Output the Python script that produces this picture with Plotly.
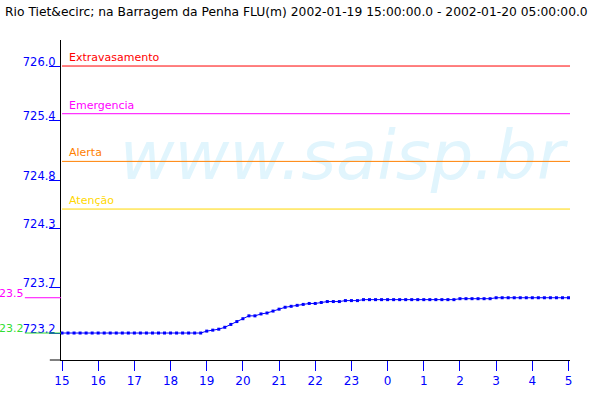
import pandas as pd
import plotly.graph_objects as go

# ---------------- data ----------------
title_text = "Rio Tiet&amp;ecirc; na Barragem da Penha FLU(m) 2002-01-19 15:00:00.0 - 2002-01-20 05:00:00.0"

times = pd.date_range("2002-01-19 15:00", "2002-01-20 05:00", freq="10min")

levels = [
    723.20, 723.20, 723.20, 723.20, 723.20, 723.20, 723.20, 723.20, 723.20, 723.20,
    723.20, 723.20, 723.20, 723.20, 723.20, 723.20, 723.20, 723.20, 723.20, 723.20,
    723.20, 723.20, 723.20, 723.20, 723.22, 723.23, 723.24, 723.26, 723.29, 723.32,
    723.35, 723.38, 723.38, 723.40, 723.41, 723.43, 723.45, 723.47, 723.48, 723.49,
    723.50, 723.51, 723.51, 723.52, 723.53, 723.53, 723.53, 723.54, 723.54, 723.54,
    723.55, 723.55, 723.55, 723.55, 723.55, 723.55, 723.55, 723.55, 723.55, 723.55,
    723.55, 723.55, 723.55, 723.55, 723.55, 723.55, 723.56, 723.56, 723.56, 723.56,
    723.56, 723.56, 723.57, 723.57, 723.57, 723.57, 723.57, 723.57, 723.57, 723.57,
    723.57, 723.57, 723.57, 723.57, 723.57,
]

threshold_names = ["Extravasamento", "Emergencia", "Alerta", "Atenção"]
threshold_values = [726.0, 725.5, 725.0, 724.5]
threshold_colors = ["#FF0000", "#FF00FF", "#FF8000", "#FFD700"]

ytick_values = [726.0, 725.43, 724.8, 724.3, 723.68, 723.2]
ytick_labels = ["726.0", "725.4", "724.8", "724.3", "723.7", "723.2"]

extreme_values = [max(levels), min(levels)]
extreme_labels = ["723.5", "723.2"]
extreme_colors = ["#FF00FF", "#33DD33"]

watermark = "www.saisp.br"

FONT = "DejaVu Sans"
BLUE = "#0000FF"

fig = go.Figure()

# watermark (drawn first so lines appear over it)
fig.add_trace(go.Scatter(
    x=[pd.Timestamp("2002-01-19 22:44:40")], y=[724.99],
    mode="text", text=[watermark], textposition="middle center",
    textfont=dict(family=FONT, size=67, color="#E1F5FD", style="italic"),
    hoverinfo="skip", showlegend=False,
))

fig.add_trace(go.Scatter(
    x=times, y=levels, mode="lines+markers",
    line=dict(color=BLUE, width=1),
    marker=dict(symbol="square", size=3, color=BLUE),
    showlegend=False,
))

shapes = []
annotations = []
for name, val, col in zip(threshold_names, threshold_values, threshold_colors):
    shapes.append(dict(type="line", xref="paper", yref="y", x0=0.002, x1=1,
                       y0=val, y1=val, line=dict(color=col, width=1)))
    annotations.append(dict(xref="paper", yref="y", x=0.012, y=val, text=name,
                            showarrow=False, xanchor="left", yanchor="bottom",
                            yshift=0, font=dict(family=FONT, size=11, color=col)))

for val, lab, col in zip(extreme_values, extreme_labels, extreme_colors):
    shapes.append(dict(type="line", xref="paper", yref="y", x0=-0.071, x1=0,
                       y0=val, y1=val, line=dict(color=col, width=1)))
    annotations.append(dict(xref="paper", yref="y", x=-0.071, y=val, text=lab,
                            showarrow=False, xanchor="right", yanchor="bottom",
                            xshift=1, yshift=-4, font=dict(family=FONT, size=11, color=col)))

# x-axis line extension to the left
shapes.append(dict(type="line", xref="paper", yref="paper", x0=-0.022, x1=0,
                   y0=0, y1=0, line=dict(color="black", width=1)))

fig.update_layout(
    width=600, height=400,
    margin=dict(l=61, r=30, t=40, b=40),
    paper_bgcolor="white", plot_bgcolor="white",
    font=dict(family=FONT, size=11, color="black"),
    title=dict(text=title_text, x=5 / 600, xref="container", xanchor="left",
               y=1 - 12 / 400, yref="container", yanchor="middle",
               font=dict(family=FONT, size=12.3, color="black")),
    shapes=shapes, annotations=annotations,
    showlegend=False,
)

fig.update_xaxes(
    type="date",
    range=[pd.Timestamp("2002-01-19 14:58:20"), pd.Timestamp("2002-01-20 05:02:30")],
    tickformat="%-H", dtick=3600000, tick0="2002-01-19 15:00",
    showgrid=False, zeroline=False,
    showline=True, linecolor="black", linewidth=1,
    ticks="outside", ticklen=10, tickcolor=BLUE, tickwidth=1,
    tickfont=dict(family=FONT, size=12, color=BLUE),
)

fig.update_yaxes(
    range=[722.917, 726.273],
    tickmode="array", tickvals=ytick_values, ticktext=ytick_labels,
    showgrid=False, zeroline=False,
    showline=True, linecolor="black", linewidth=1,
    ticks="outside", ticklen=11, tickcolor=BLUE, tickwidth=1,
    tickfont=dict(family=FONT, size=11.5, color=BLUE),
    ticklabelstandoff=-9, ticklabelshift=-4,
)

fig.write_html("out.html", config={"displayModeBar": False},
               post_script="document.body.style.margin='0';")
